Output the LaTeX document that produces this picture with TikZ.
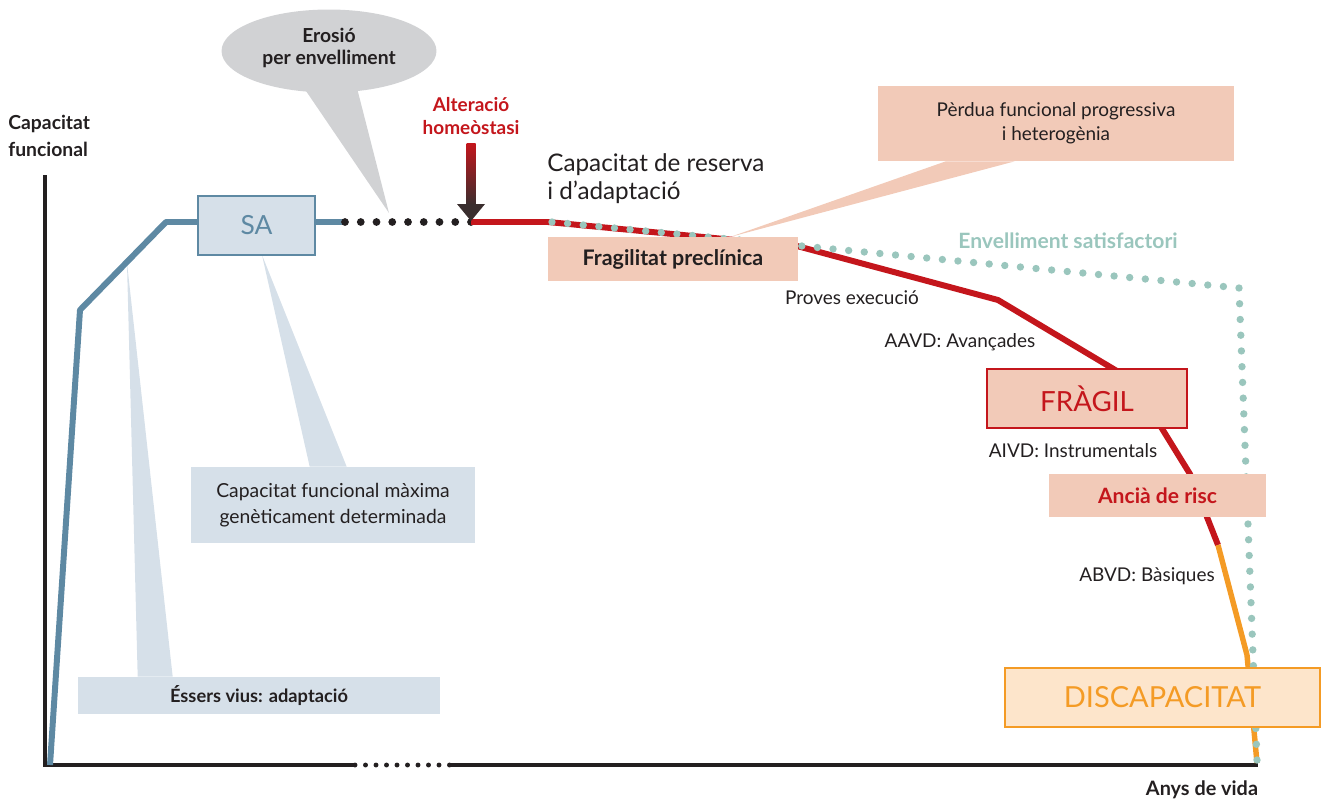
\documentclass[tikz,border=0pt]{standalone}
\usepackage{fontspec}
\setmainfont{Lato}
\usetikzlibrary{calc,shapes.geometric}

\definecolor{inkdark}{HTML}{231F20}
\definecolor{agblue}{HTML}{5E89A3}
\definecolor{agbluelight}{HTML}{D6E0E9}
\definecolor{erosgray}{HTML}{D1D2D4}
\definecolor{frred}{HTML}{C4161C}
\definecolor{frpeach}{HTML}{F2CAB8}
\definecolor{discorange}{HTML}{F49B25}
\definecolor{disclight}{HTML}{FDE5CB}
\definecolor{satteal}{HTML}{9AC6BD}
\definecolor{arrowdark}{HTML}{3A2E2E}

\tikzset{
    labeltxt/.style={inner sep=0pt, text=inkdark, font=\fontsize{10.8}{14}\selectfont},
    boldtxt/.style={inner sep=0pt, text=inkdark, align=center, font=\fontsize{11}{13}\selectfont\bfseries},
    calloutbox/.style={inner sep=0pt, align=center, text=inkdark},
}

\begin{document}
\begin{tikzpicture}[x=0.02cm, y=-0.02cm]
        \useasboundingbox (0,0) rectangle (1322,802);
        \coordinate (level) at (0,222);
        % callout shapes
        \node[ellipse, fill=erosgray, minimum width=4.3cm, minimum height=1.66cm, inner sep=0pt] (erosio) at (329,51) {};
        \node[boldtxt] (erosiotxt) at (329,48) {Erosió\\per envelliment};
        \node[calloutbox, fill=agbluelight, minimum width=5.68cm, minimum height=1.52cm,
            font=\fontsize{11}{14.7}\selectfont] (maxcap) at (333,505) {Capacitat funcional màxima\\genèticament determinada};
        \node[calloutbox, fill=agbluelight, minimum width=7.24cm, minimum height=0.74cm,
            font=\fontsize{10.4}{12}\selectfont\bfseries] (essers) at (259,695.5) {Éssers vius: adaptació};
        \node[calloutbox, fill=frpeach, minimum width=7.12cm, minimum height=1.5cm,
            font=\fontsize{10.8}{13.6}\selectfont] (perdua) at (1056,123.5) {Pèrdua funcional progressiva\\i heterogènia};
        \fill[erosgray] (304,88) -- (357,88) -- (389,213) -- cycle;
        \fill[agbluelight] (127,263) -- ($(essers.north west)+(60,0)$) -- ($(essers.north west)+(95,0)$) -- cycle;
        \fill[frpeach] ($(perdua.south west)+(68,0)$) -- ($(perdua.south west)+(137,0)$) -- (730,237) -- cycle;
        \fill[agbluelight] (262,255) -- ($(maxcap.north west)+(119,0)$) -- ($(maxcap.north west)+(156,0)$) -- cycle;
        % axes
        \draw[inkdark, line width=2.6pt] (45,175) -- (45,765) -- (355,765);
        \draw[inkdark, line width=2.6pt] (450,765) -- (1258,765);
        \foreach \i in {0,...,9} {
            \fill[inkdark] (355+\i*10.5,765) circle (1.4pt);
        }
        \node[boldtxt, anchor=west, align=left, font=\fontsize{11}{15.3}\selectfont\bfseries] (ylabel) at (8,136) {Capacitat\\funcional};
        \node[boldtxt, font=\fontsize{11.3}{13}\selectfont\bfseries] (xlabel) at (1202,790) {Anys de vida};
        % curves
        \node[calloutbox, fill=agbluelight, draw=agblue, line width=1.3pt, minimum width=2.34cm, minimum height=1.18cm,
            text=agblue, font=\fontsize{15}{17}\selectfont] (sa) at (256.5,225.5) {SA};
        \draw[agblue, line width=3.4pt, line join=round] (50,765) -- (80,310) -- (166,222) -- (sa.west |- level);
        \draw[agblue, line width=3.4pt] (sa.east |- level) -- (345,222);
        \foreach \i in {0,...,8} {
            \fill[inkdark] (345+\i*15.75,222) circle (2.2pt);
        }
        \draw[frred, line width=3.4pt, line join=round] (471,222) -- (548,222) -- (797,246) -- (998,300)
            -- (1132,380) -- (1190,474) -- (1218,545);
        \draw[discorange, line width=3.1pt, line join=round] (1218,545) -- (1247,655) -- (1257,763);
        \coordinate (satstart) at (552,222);
        \coordinate (satcorner) at (1239,288);
        \coordinate (satend) at (1257,760);
        \foreach \i in {0,...,44} {
            \fill[satteal] ($(satstart)!\i/44!(satcorner)$) circle (2.1pt);
        }
        \foreach \i in {1,...,30} {
            \fill[satteal] ($(satcorner)!\i/30!(satend)$) circle (2.1pt);
        }
        % homeostasis arrow
        \node[boldtxt, text=frred, font=\fontsize{10.8}{13}\selectfont\bfseries] (alter) at (471,116) {Alteració\\homeòstasi};
        \shade[top color=frred, bottom color=arrowdark] (466.5,143) rectangle (475.5,205);
        \fill[arrowdark] (457,204) -- (485,204) -- (471,221) -- cycle;
        % stages
        \node[labeltxt, anchor=west, align=left, font=\fontsize{13.8}{15.9}\selectfont] (reserva) at (547,179) {Capacitat de reserva\\i d’adaptació};
        \node[calloutbox, fill=frpeach, minimum width=5.0cm, minimum height=0.88cm,
            font=\fontsize{12.2}{13}\selectfont\bfseries] (fragpre) at (673,259) {Fragilitat preclínica};
        \node[boldtxt, text=satteal, font=\fontsize{12}{13}\selectfont\bfseries] (satisf) at (1068,241) {Envelliment satisfactori};
        \node[labeltxt] (proves) at (852,298) {Proves execució};
        \node[labeltxt] (aavd) at (960,342) {AAVD: Avançades};
        \node[calloutbox, fill=frpeach, draw=frred, line width=1.2pt, minimum width=4.0cm, minimum height=1.18cm,
            text=frred, font=\fontsize{15.8}{17}\selectfont] (fragil) at (1087,398.5) {FRÀGIL};
        \node[labeltxt] (aivd) at (1073,451) {AIVD: Instrumentals};
        \node[calloutbox, fill=frpeach, minimum width=4.34cm, minimum height=0.86cm,
            text=frred, font=\fontsize{12}{13}\selectfont\bfseries] (ancia) at (1157.5,495.5) {Ancià de risc};
        \node[labeltxt] (abvd) at (1147,576) {ABVD: Bàsiques};
        \node[calloutbox, fill=disclight, draw=discorange, line width=1.2pt, minimum width=6.3cm, minimum height=1.18cm,
            text=discorange, font=\fontsize{16.5}{18}\selectfont] (discap) at (1162.5,697.5) {DISCAPACITAT};
    \end{tikzpicture}
\end{document}
